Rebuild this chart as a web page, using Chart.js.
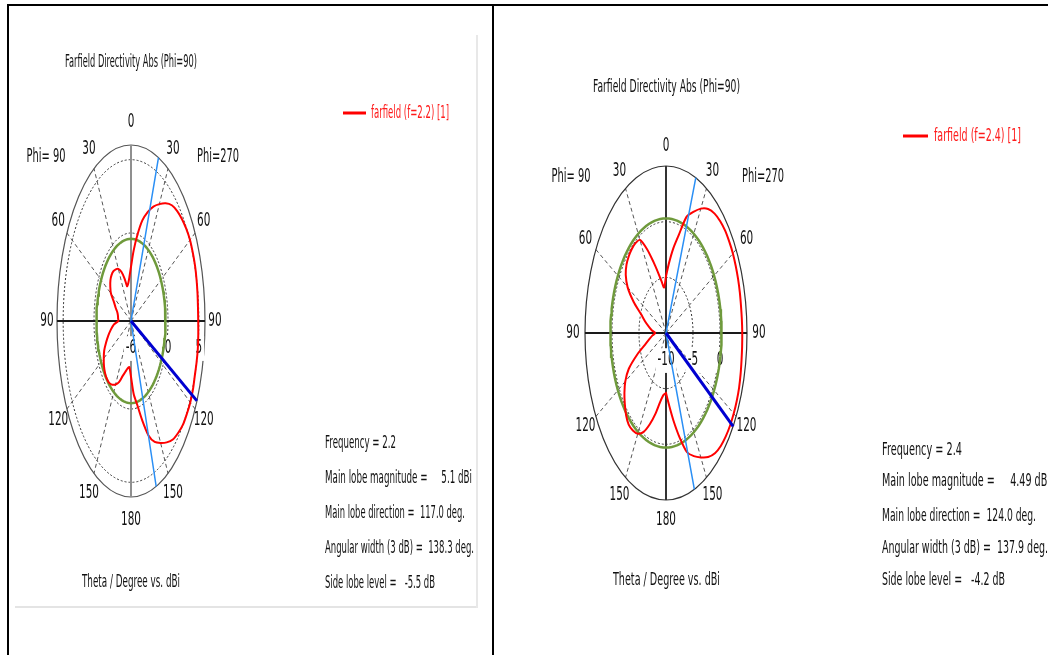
<!DOCTYPE html>
<html><head><meta charset="utf-8">
<script src="https://cdn.jsdelivr.net/npm/chart.js@4.4.1/dist/chart.umd.min.js"></script>
<style>
html,body{margin:0;padding:0;background:#fff;}
body{width:1048px;height:655px;position:relative;overflow:hidden;}
canvas{position:absolute;top:0;}
.ln{position:absolute;}
</style></head><body>
<canvas id="c1" width="493" height="655" style="left:0px"></canvas>
<canvas id="c2" width="555" height="655" style="left:493px"></canvas>
<div class="ln" style="left:15px;top:606px;width:463px;height:2px;background:#e4e4e4"></div>
<div class="ln" style="left:476px;top:35px;width:2px;height:573px;background:#e8e8e8"></div>
<div class="ln" style="left:7px;top:4px;width:1041px;height:2px;background:#000"></div>
<div class="ln" style="left:7px;top:4px;width:2px;height:651px;background:#000"></div>
<div class="ln" style="left:492px;top:4px;width:2px;height:651px;background:#000"></div>
<script>
// ---------- data ----------
const thetaDeg = [0,5,10,15,20,25,30,35,40,45,50,55,60,65,70,75,80,85,90,95,100,105,110,115,120,125,130,135,140,145,150,155,160,165,170,175,180];
// f = 2.2 : directivity (dBi) on the Phi=270 half and on the Phi=90 half
const f22Phi270 = [-2.3,-1.2,-0.05,1.1,1.9,2.6,3.2,3.8,4.3,4.6,4.8,4.95,5.05,5.05,5.05,5.0,4.95,4.9,4.9,4.95,5.0,5.0,5.0,5.08,5.1,5.05,5.0,4.8,4.55,4.1,3.6,3.1,2.3,1.0,-0.2,-1.0,-2.2];
const f22Phi90  = [-2.3,-3.0,-3.4,-3.55,-2.9,-2.3,-1.9,-1.7,-1.57,-1.55,-1.65,-1.9,-2.25,-2.95,-3.35,-3.7,-3.85,-3.9,-3.95,-3.2,-2.7,-2.2,-1.7,-1.2,-0.9,-0.65,-0.5,-0.45,-0.5,-0.7,-1.0,-1.4,-2.0,-2.4,-2.7,-2.85,-2.2];
// f = 2.4
const f24Phi270 = [-4.9,-3.7,-2.3,-0.9,1.1,2.0,2.9,3.6,4.0,4.2,4.3,4.3,4.3,4.25,4.2,4.15,4.1,4.1,4.12,4.15,4.2,4.3,4.4,4.45,4.48,4.49,4.45,4.35,4.1,3.6,2.9,2.2,1.4,-0.3,-2.0,-3.5,-4.6];
const f24Phi90  = [-4.9,-5.9,-5.3,-4.4,-3.2,-1.7,-0.35,-0.15,-0.15,-0.25,-0.45,-0.9,-1.8,-3.4,-5.1,-6.0,-6.8,-7.4,-8.0,-7.5,-6.9,-6.0,-4.3,-2.4,-1.3,-0.6,-0.05,0.45,0.75,0.7,0.45,-0.2,-1.3,-2.5,-3.7,-4.4,-4.6];
const frequencies = [2.2, 2.4];
const mainLobeMag = [5.1, 4.49];
const mainLobeDir = [117.0, 124.0];
const angularWidth = [138.3, 137.9];
const sideLobeLevel = [-5.5, -4.2];
const beamEdgeStart = [21.8, 21.6];
const radialMin = [-6, -10];
const radialMax = [6, 5];
const radialTicks = [[-6, 0, 5], [-10, -5, 0]];
const gridCircles = [[0, 5], [-5, 0]];
const angleTicks = [0, 30, 60, 90, 120, 150, 180];

// ---------- drawing helpers ----------
const FONT = '"DejaVu Sans", "Liberation Sans", sans-serif';
function drawScaled(ctx, str, x, y, o) {
  const size = o.size || 16;
  ctx.save();
  ctx.font = size + 'px ' + FONT;
  const w = ctx.measureText(str).width;
  const sx = o.width ? o.width / w : (o.sx || 0.6);
  const W = w * sx;
  const left = o.align === 'center' ? x - W / 2 : (o.align === 'right' ? x - W : x);
  if (o.bg) { ctx.fillStyle = o.bg; ctx.fillRect(left - 2, y - size * 0.62, W + 4, size * 1.3); }
  ctx.translate(left, y); ctx.scale(sx, 1);
  ctx.fillStyle = o.color || '#111';
  ctx.textBaseline = 'middle'; ctx.textAlign = 'left';
  ctx.fillText(str, 0, 0);
  ctx.restore();
}

function makeChart(canvasId, k, L) {
  const rMin = radialMin[k], rMax = radialMax[k];
  const R = rMax - rMin;
  const toXY = (alpha, db) => {
    const r = Math.max(0, Math.min(db, rMax) - rMin);
    const a = alpha * Math.PI / 180;
    return { x: r * Math.sin(a), y: r * Math.cos(a) };
  };
  const phi270 = k === 0 ? f22Phi270 : f24Phi270;
  const phi90 = k === 0 ? f22Phi90 : f24Phi90;
  const curve = [];
  thetaDeg.forEach((t, i) => curve.push(toXY(t, phi270[i])));
  for (let i = thetaDeg.length - 1; i >= 0; i--) curve.push(toXY(360 - thetaDeg[i], phi90[i]));

  const sll = mainLobeMag[k] + sideLobeLevel[k];
  const green = [];
  for (let a = 0; a <= 360; a += 3) green.push(toXY(a, sll));
  const mainLine = [{ x: 0, y: 0 }, toXY(mainLobeDir[k], rMax)];
  const e1 = beamEdgeStart[k], e2 = beamEdgeStart[k] + angularWidth[k];
  const beamLines = [toXY(e1, rMax), { x: 0, y: 0 }, toXY(e2, rMax)];

  const off = L.offsetX;
  const LBL = 19, LSX = 0.55, TXT = 18;
  const plugin = {
    id: 'polarDecor' + k,
    beforeDatasetsDraw(chart) {
      const ctx = chart.ctx, xs = chart.scales.x, ys = chart.scales.y;
      const cx = xs.getPixelForValue(0), cy = ys.getPixelForValue(0);
      const rx = r => xs.getPixelForValue(r) - cx;
      const ry = r => cy - ys.getPixelForValue(r);
      ctx.save();
      // radial dashed lines
      ctx.strokeStyle = '#555'; ctx.lineWidth = 1; ctx.setLineDash([4, 3]);
      [30, 60, 120, 150, 210, 240, 300, 330].forEach(a => {
        const p = toXY(a, rMax);
        ctx.beginPath(); ctx.moveTo(cx, cy);
        ctx.lineTo(xs.getPixelForValue(p.x), ys.getPixelForValue(p.y)); ctx.stroke();
      });
      // dotted dB circles
      ctx.strokeStyle = '#333'; ctx.setLineDash([2, 2]);
      gridCircles[k].forEach(db => {
        const r = db - rMin;
        ctx.beginPath(); ctx.ellipse(cx, cy, rx(r), ry(r), 0, 0, Math.PI * 2); ctx.stroke();
      });
      ctx.setLineDash([]);
      // outer circle
      ctx.strokeStyle = L.outerColor; ctx.lineWidth = 1.2;
      ctx.beginPath(); ctx.ellipse(cx, cy, rx(R), ry(R), 0, 0, Math.PI * 2); ctx.stroke();
      // axes
      ctx.strokeStyle = L.vAxisColor; ctx.lineWidth = 2;
      ctx.beginPath(); ctx.moveTo(cx, cy - ry(R)); ctx.lineTo(cx, cy + ry(R)); ctx.stroke();
      ctx.strokeStyle = '#1a1a1a'; ctx.lineWidth = 2;
      ctx.beginPath(); ctx.moveTo(cx - rx(R), cy); ctx.lineTo(cx + rx(R), cy); ctx.stroke();
      ctx.restore();
      // radial tick labels
      radialTicks[k].forEach(db => {
        drawScaled(ctx, String(db), cx + rx(db - rMin), cy + 27, { align: 'center', sx: LSX, size: LBL, bg: '#fff' });
      });
      // angle labels
      const lx = rx(R) + L.labDx, ly = ry(R) + L.labDy;
      angleTicks.forEach(t => {
        const a = t * Math.PI / 180;
        drawScaled(ctx, String(t), cx + lx * Math.sin(a), cy - ly * Math.cos(a), { align: 'center', sx: LSX, size: LBL });
        if (t > 0 && t < 180)
          drawScaled(ctx, String(t), cx - lx * Math.sin(a), cy - ly * Math.cos(a), { align: 'center', sx: LSX, size: LBL });
      });
      drawScaled(ctx, 'Phi= 90', L.phiL[0] - off, L.phiL[1], { align: 'center', sx: 0.52, size: LBL });
      drawScaled(ctx, 'Phi=270', L.phiR[0] - off, L.phiR[1], { align: 'center', sx: 0.52, size: LBL });
    },
    afterDraw(chart) {
      const ctx = chart.ctx;
      drawScaled(ctx, 'Farfield Directivity Abs (Phi=90)', L.title[0] - off, L.title[2], { width: L.title[1] - L.title[0], size: TXT });
      ctx.save();
      ctx.strokeStyle = '#ff0000'; ctx.lineWidth = 3;
      ctx.beginPath(); ctx.moveTo(L.leg[0] - off, L.leg[2]); ctx.lineTo(L.leg[1] - off, L.leg[2]); ctx.stroke();
      ctx.restore();
      drawScaled(ctx, 'farfield (f=' + frequencies[k] + ') [1]', L.legT[0] - off, L.leg[2], { width: L.legT[1] - L.legT[0], size: TXT, color: '#ff1a1a' });
      const lines = [
        'Frequency = ' + frequencies[k],
        'Main lobe magnitude =     ' + mainLobeMag[k] + ' dBi',
        'Main lobe direction =  ' + mainLobeDir[k].toFixed(1) + ' deg.',
        'Angular width (3 dB) =  ' + angularWidth[k].toFixed(1) + ' deg.',
        'Side lobe level =   ' + sideLobeLevel[k] + ' dB'
      ];
      lines.forEach((s, i) => drawScaled(ctx, s, L.info.x - off, L.info.y[i], { width: L.info.r[i] - L.info.x, size: TXT }));
      drawScaled(ctx, 'Theta / Degree vs. dBi', L.cap[0] - off, L.cap[2], { width: L.cap[1] - L.cap[0], size: TXT });
    }
  };

  return new Chart(document.getElementById(canvasId), {
    type: 'scatter',
    data: {
      datasets: [
        { data: mainLine, showLine: true, borderColor: '#0000d0', borderWidth: 3, pointRadius: 0, order: 0, clip: false },
        { data: beamLines, showLine: true, borderColor: '#2a8ff5', borderWidth: 1.5, pointRadius: 0, order: 1, clip: false },
        { data: curve, showLine: true, borderColor: '#ff0000', borderWidth: 2, pointRadius: 0, tension: 0.25, order: 2, clip: false },
        { data: green, showLine: true, borderColor: '#6f9a3c', borderWidth: 2.5, pointRadius: 0, order: 3, clip: false }
      ]
    },
    options: {
      responsive: false, animation: false, devicePixelRatio: 1,
      layout: { padding: L.pad },
      scales: {
        x: { type: 'linear', min: -R, max: R, display: false },
        y: { type: 'linear', min: -R, max: R, display: false }
      },
      plugins: { legend: { display: false }, tooltip: { enabled: false }, title: { display: false } }
    },
    plugins: [plugin]
  });
}

makeChart('c1', 0, {
  offsetX: 0,
  pad: { left: 57, right: 288, top: 145, bottom: 158 },
  outerColor: '#555', vAxisColor: '#8f8f8f', labDx: 10, labDy: 23,
  phiL: [46, 157], phiR: [218, 157],
  title: [65, 197, 62], leg: [343, 366, 113], legT: [371, 449],
  info: { x: 325, y: [443, 478, 513, 548, 583], r: [396, 472, 465, 474, 435] },
  cap: [82, 180, 582]
});
makeChart('c2', 1, {
  offsetX: 493,
  pad: { left: 92, right: 301, top: 166, bottom: 155 },
  outerColor: '#333', vAxisColor: '#333', labDx: 12, labDy: 20,
  phiL: [571, 177], phiR: [763, 177],
  title: [593, 740, 87], leg: [903, 928, 136], legT: [934, 1021],
  info: { x: 882, y: [450, 481, 516, 548, 580], r: [962, 1050, 1036, 1048, 1005] },
  cap: [613, 720, 580]
});
</script>
</body></html>
